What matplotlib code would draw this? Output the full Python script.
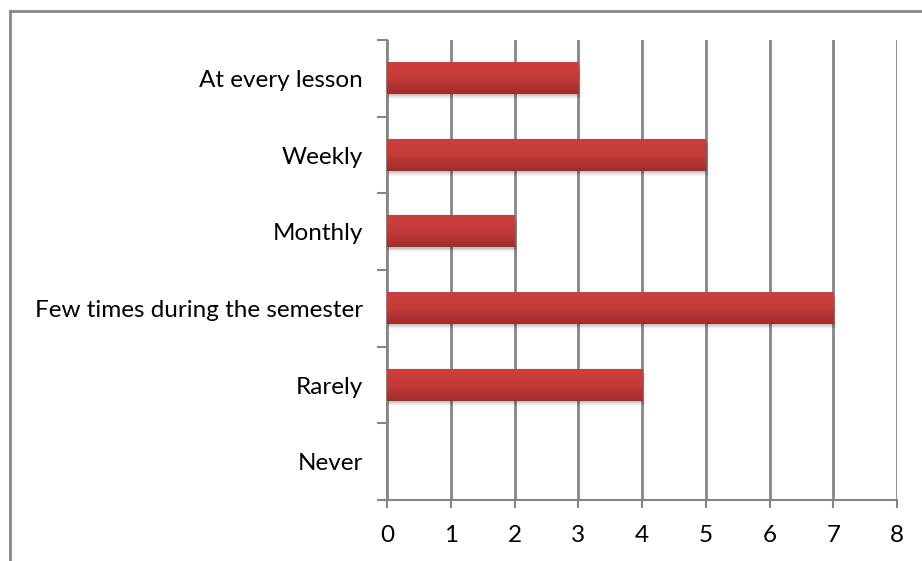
import numpy as np
import matplotlib.pyplot as plt
from matplotlib.colors import LinearSegmentedColormap
from matplotlib.lines import Line2D

# answers, bottom to top
categories = ["Never", "Rarely", "Few times during the semester",
              "Monthly", "Weekly", "At every lesson"]
counts = [0, 4, 7, 2, 5, 3]
xticks = [0, 1, 2, 3, 4, 5, 6, 7, 8]

grey = "#868686"
bar_h = 0.41

plt.rcParams["font.family"] = ["Lato", "DejaVu Sans"]

fig = plt.figure(figsize=(9.22, 5.61), dpi=100)
ax = fig.add_axes([387 / 922, 1 - 500 / 561, 510 / 922, 460 / 561])

# red bar fill, lighter at the top
cmap = LinearSegmentedColormap.from_list("barred", ["#a02c2c", "#c53b39", "#cd3f3d"])
grad = np.linspace(0, 1, 64).reshape(-1, 1)

for i, v in enumerate(counts):
    if v <= 0:
        continue
    # soft shadow under each bar
    for k, a in enumerate([0.07, 0.06, 0.05, 0.04, 0.03]):
        off = 0.015 + 0.012 * k
        ax.add_patch(plt.Rectangle((0.0, i - bar_h / 2 - off), v + 0.015 + 0.01 * k, bar_h,
                                   facecolor="black", alpha=a, lw=0, zorder=2))
    ax.imshow(grad, cmap=cmap, aspect="auto", origin="lower",
              extent=(0, v, i - bar_h / 2, i + bar_h / 2), zorder=3)

ax.set_xlim(0, 8)
ax.set_ylim(-0.5, len(categories) - 0.5)

ax.set_xticks(xticks)
ax.set_xticklabels([str(t) for t in xticks])
ax.set_yticks(range(len(categories)))
ax.set_yticklabels(categories)
ax.set_yticks(np.arange(-0.5, len(categories)), minor=True)

ax.grid(axis="x", color=grey, lw=2, zorder=1)
ax.grid(axis="y", visible=False)
ax.set_axisbelow(True)

for s in ["top", "right"]:
    ax.spines[s].set_visible(False)
for s in ["left", "bottom"]:
    ax.spines[s].set_color(grey)
    ax.spines[s].set_linewidth(1.5)

ax.tick_params(axis="y", which="major", length=0, pad=17.5, labelsize=17.5)
ax.tick_params(axis="y", which="minor", length=7, width=1.5, color=grey)
ax.tick_params(axis="x", length=6, width=1.5, color=grey, pad=12, labelsize=17.5)

# outer chart frame (cut off at right and bottom)
fig.add_artist(Line2D([10 / 922, 1], [1 - 11 / 561] * 2, color=grey, lw=2,
                      transform=fig.transFigure))
fig.add_artist(Line2D([10 / 922] * 2, [0, 1 - 11 / 561], color=grey, lw=2,
                      transform=fig.transFigure))

fig.savefig("out.png", dpi=100)
